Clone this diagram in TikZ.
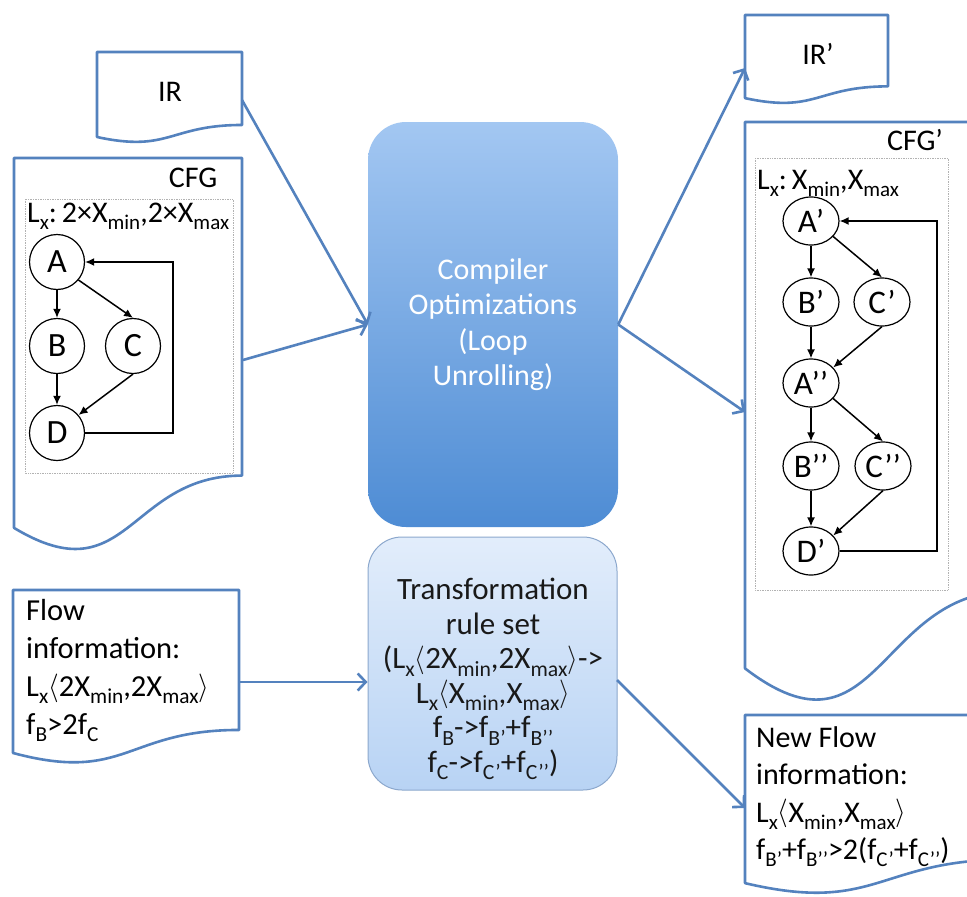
\documentclass[tikz,border=0pt]{standalone}
\usepackage{fontspec}
\usepackage{graphicx}
\setmainfont{Carlito}
\usetikzlibrary{arrows.meta,shapes.geometric}
\definecolor{docblue}{RGB}{84,130,190}
\definecolor{optTop}{RGB}{163,199,242}
\definecolor{optBot}{RGB}{78,140,212}
\definecolor{trTop}{RGB}{226,237,251}
\definecolor{trBot}{RGB}{184,211,244}
\definecolor{trLine}{RGB}{140,168,205}
\newcommand\sbx[1]{\raisebox{-0.24em}{\scalebox{0.7}{#1}}}
\newcommand\myla{\smash{\raisebox{0.04em}{\scalebox{1.1}[1.15]{$\langle$}}}}
\newcommand\myra{\smash{\raisebox{0.04em}{\scalebox{1.1}[1.15]{$\rangle$}}}}
\newcommand\mydoc[4]{% L T w h
  \draw[docstyle] (#1,#2) -- ({#1+#3},#2) -- ({#1+#3},{#2+0.802*#4})
    .. controls ({#1+0.5*#3},{#2+0.802*#4}) and ({#1+0.5*#3},{#2+1.1075*#4}) ..
    (#1,{#2+0.934*#4}) -- cycle;}
\tikzset{
  docstyle/.style={draw=docblue, line width=2.6pt, fill=white, line join=round},
  barrow/.style={draw=docblue, line width=2.6pt, -{Straight Barb[length=8pt,width=17pt]}},
  dotbox/.style={draw=gray!60, densely dotted, line width=0.7pt},
  cn/.style={circle, draw, line width=1.2pt, minimum size=55pt, inner sep=0pt, font=\fontsize{34}{36}\selectfont},
  en/.style={ellipse, draw, line width=1.2pt, minimum width=56pt, minimum height=48pt, inner sep=0pt, font=\fontsize{33}{36}\selectfont},
  garrow/.style={line width=1.5pt, -{Latex[length=9pt,width=8pt]}},
  txt/.style={font=\fontsize{30}{36}\selectfont, inner sep=0pt},
  lbl/.style={font=\fontsize{30}{32}\selectfont, inner sep=0pt},
}
\begin{document}
\begin{tikzpicture}[x=1pt,y=-1pt]
\useasboundingbox (0,0) rectangle (967,897);
\clip (0,0) rectangle (967,897);
\fill[white] (0,0) rectangle (967,897);

% ---------- left documents ----------
\mydoc{97}{52}{145}{91}
\node[txt] (irt) at (170,92) {IR};

\mydoc{14}{158}{228}{396}
\node[lbl] (cfgt) at (193,178) {CFG};
\draw[dotbox] (25,199) rectangle (233,473);
\node[lbl, anchor=base west] (lx1) at (27,222) {L\sbx{x}:\,2×X\sbx{min},2×X\sbx{max}};

\node[cn] (A) at (57,262) {A};
\node[cn] (B) at (57,346) {B};
\node[cn] (C) at (133,346) {C};
\node[cn] (D) at (57,433) {D};
\coordinate (lp1) at (173,0);
\draw[garrow] (A) -- (B);
\draw[garrow] (A.-40) -- (C.north);
\draw[garrow] (B) -- (D);
\draw[garrow] (C.south) -- (D.40);
\draw[garrow] (D.east) -- (D.east -| lp1) |- (A.east);

\mydoc{13}{590}{226}{174.5}
\node[txt, anchor=north west, align=left, font=\fontsize{30.5}{38}\selectfont] (flowt) at (26,599)
  {Flow\\information:\\L\sbx{x}\myla 2X\sbx{min},2X\sbx{max}\myra\\f\sbx{B}>2f\sbx{C}};

% ---------- center boxes ----------
\node[rounded corners=38pt, top color=optTop, bottom color=optBot, draw=none,
      minimum width=250pt, minimum height=405pt, inner sep=0pt,
      align=center, text=white, font=\fontsize{30}{35.5}\selectfont] (opt) at (493,324.5)
  {Compiler\\Optimizations\\(Loop\\Unrolling)};

\node[rounded corners=34pt, top color=trTop, bottom color=trBot, draw=trLine, line width=1pt,
      minimum width=249pt, minimum height=253pt, inner sep=0pt] (trans) at (492.5,663.5) {};
\node[txt, align=center, text=black!90, font=\fontsize{31}{34.5}\selectfont] (transt) at (493,679)
  {Transformation\\rule set\\(L\sbx{x}\myla 2X\sbx{min},2X\sbx{max}\myra->\\L\sbx{x}\myla X\sbx{min},X\sbx{max}\myra\\f\sbx{B}->f\sbx{B’}+f\sbx{B’’}\\f\sbx{C}->f\sbx{C’}+f\sbx{C’’})};

% ---------- right documents ----------
\mydoc{745}{15}{143}{89}
\node[txt] (irpt) at (818,54) {IR’};

\mydoc{745}{122}{265}{585}
\node[lbl] (cfgpt) at (915,140) {CFG’};
\draw[dotbox] (755,158) rectangle (948,590);
\node[lbl, anchor=base west] (lx2) at (757,189) {L\sbx{x}:\,X\sbx{min},X\sbx{max}};

\node[en] (A1) at (811,221) {A’};
\node[en] (B1) at (811,302) {B’};
\node[en] (C1) at (882,302) {C’};
\node[en] (A2) at (811,383) {A’’};
\node[en] (B2) at (811,466) {B’’};
\node[en] (C2) at (883,466) {C’’};
\node[en] (D1) at (811,551) {D’};
\coordinate (lp2) at (937,0);
\draw[garrow] (A1) -- (B1);
\draw[garrow] (A1.-35) -- (C1.north);
\draw[garrow] (B1) -- (A2);
\draw[garrow] (C1.south) -- (A2.35);
\draw[garrow] (A2) -- (B2);
\draw[garrow] (A2.-35) -- (C2.north);
\draw[garrow] (B2) -- (D1);
\draw[garrow] (C2.south) -- (D1.35);
\draw[garrow] (D1.east) -- (D1.east -| lp2) |- (A1.east);

\mydoc{745}{715}{265}{180}
\node[txt, anchor=north west, align=left, font=\fontsize{30}{37.5}\selectfont] (newt) at (756,726)
  {New Flow\\information:\\L\sbx{x}\myla X\sbx{min},X\sbx{max}\myra\\f\sbx{B’}+f\sbx{B’’}>2(f\sbx{C’}+f\sbx{C’’})};

% ---------- connectors ----------
\coordinate (irout) at (242,100);
\coordinate (cfgout) at (243,360);
\coordinate (irpin) at (745,68);
\coordinate (cfgpin) at (745,412);
\coordinate (flowout) at (239,682);
\coordinate (trout) at (617,680);
\coordinate (newin) at (745,808);
\draw[barrow] (irout) -- (opt.west);
\draw[barrow] (cfgout) -- (opt.west);
\draw[barrow] (opt.east) -- (irpin);
\draw[barrow] (opt.east) -- (cfgpin);
\draw[barrow] (flowout) -- (flowout -| trans.west);
\draw[barrow] (trout) -- (newin);
\end{tikzpicture}
\end{document}
